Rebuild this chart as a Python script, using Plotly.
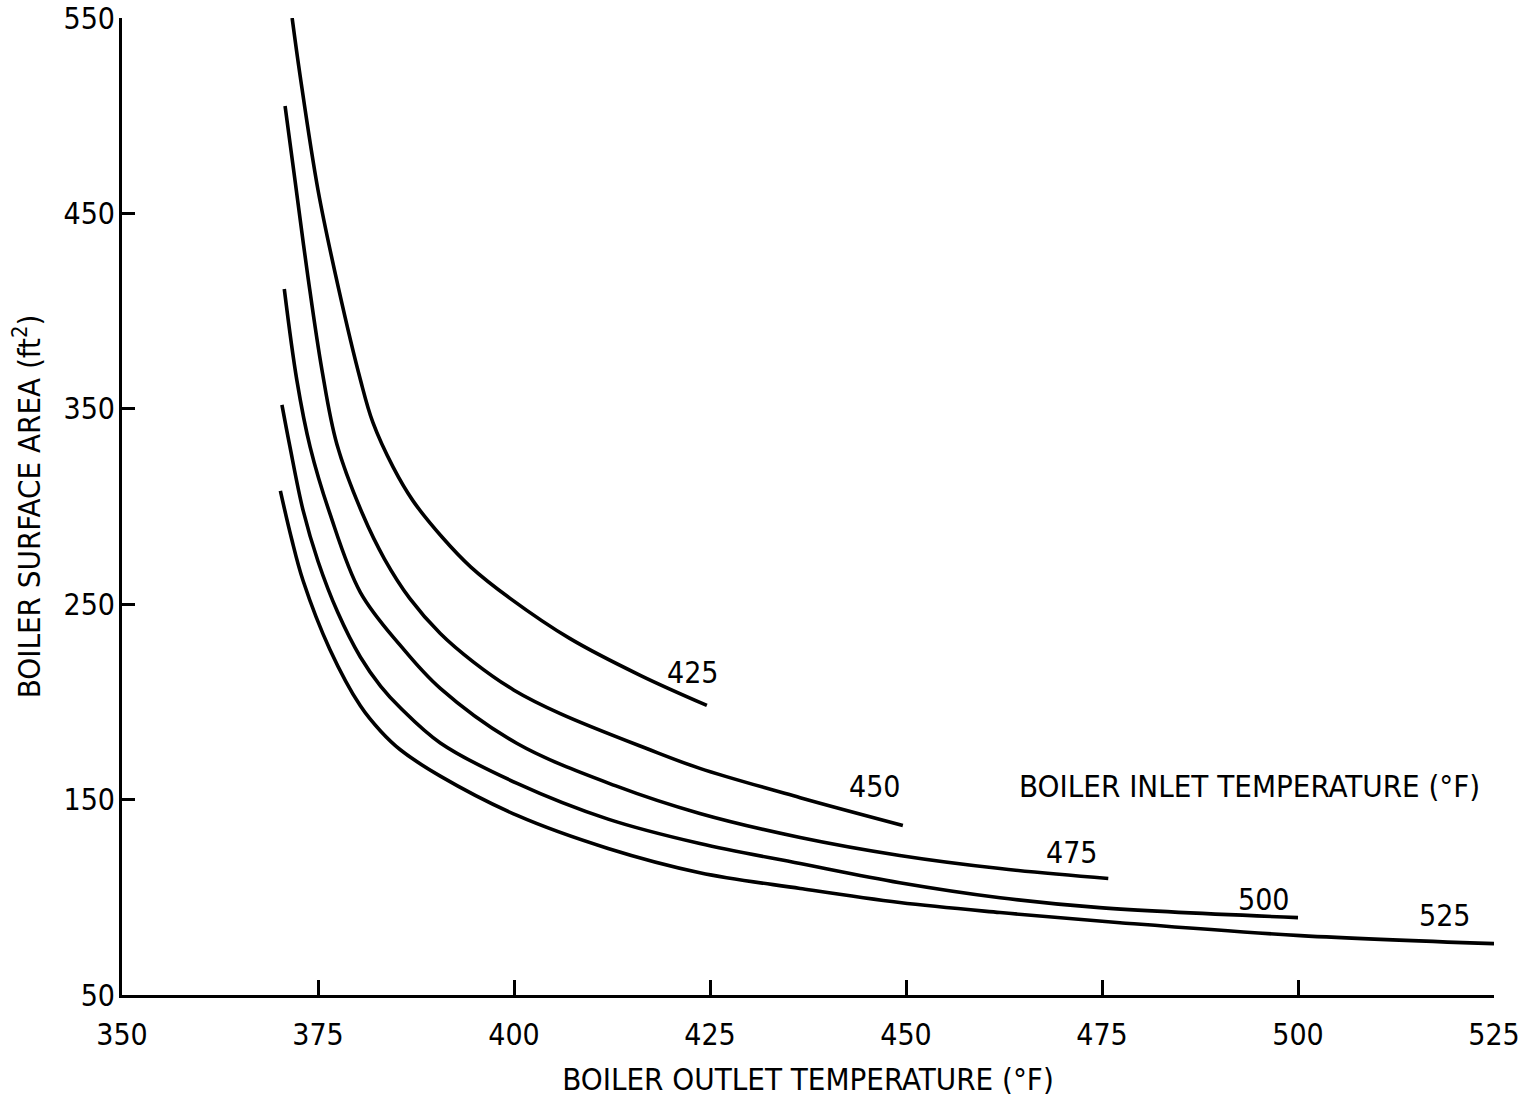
import plotly.graph_objects as go

# Boiler inlet temperatures (deg F), one curve each
inlet_temps = [425, 450, 475, 500, 525]

# Boiler outlet temperature (deg F) vs. required boiler surface area (ft^2)
outlet_425 = [371.7, 372.7, 375.0, 377.6, 380.4, 382.0, 384.6, 387.1, 390.9, 394.5, 399.5, 407.1, 416.1, 424.6]
area_425 = [550.0, 521.0, 462.0, 412.0, 365.0, 343.0, 320.0, 303.0, 284.0, 269.0, 253.0, 232.5, 213.6, 198.2]

outlet_450 = [370.8, 372.1, 373.7, 375.5, 377.4, 380.7, 383.5, 386.7, 390.6, 394.8, 400.0, 405.9, 417.0, 423.7, 436.5, 449.6]
area_450 = [505.0, 466.0, 418.0, 370.0, 332.0, 296.0, 273.0, 253.0, 235.0, 220.5, 206.0, 194.0, 176.0, 166.0, 151.0, 136.8]

outlet_475 = [370.7, 372.3, 374.0, 376.5, 380.4, 385.5, 390.6, 400.4, 413.0, 423.7, 436.5, 449.2, 462.0, 475.8]
area_475 = [411.3, 364.7, 330.4, 296.6, 256.1, 228.9, 206.9, 178.7, 157.0, 142.9, 130.6, 121.4, 114.7, 109.6]

outlet_500 = [370.4, 371.4, 373.1, 375.0, 377.5, 380.4, 383.0, 385.5, 390.6, 400.4, 412.0, 423.7, 436.5, 449.2, 462.0, 474.7, 500.0]
area_500 = [352.0, 331.0, 298.0, 272.0, 246.0, 223.0, 208.0, 197.0, 179.0, 158.3, 140.0, 127.5, 117.3, 107.5, 99.8, 94.7, 89.6]

outlet_525 = [370.2, 371.6, 373.1, 376.5, 380.4, 383.0, 385.5, 390.6, 400.4, 412.0, 423.7, 436.5, 449.2, 462.0, 477.3, 500.3, 525.0]
area_525 = [308.0, 284.0, 262.0, 227.0, 198.0, 185.0, 175.5, 162.0, 141.9, 125.0, 112.6, 104.5, 97.3, 92.2, 87.0, 80.4, 76.3]

# Axis ticks
x_ticks = [350, 375, 400, 425, 450, 475, 500, 525]
y_ticks = [50, 150, 250, 350, 450, 550]

curves = [
    (outlet_425, area_425),
    (outlet_450, area_450),
    (outlet_475, area_475),
    (outlet_500, area_500),
    (outlet_525, area_525),
]

# Pixel offsets of each curve label from the curve's end point
label_shift = [(-14, 33), (-28, 39), (-36, 26), (-34, 18), (-49, 28)]

FONT = "DejaVu Sans Condensed, Liberation Sans Narrow, DejaVu Sans, sans-serif"
TXT = dict(family=FONT, size=31, color="black")
TICK = dict(family=FONT, size=30, color="black")

fig = go.Figure()
for (xs, ys) in curves:
    fig.add_trace(go.Scatter(
        x=xs, y=ys, mode="lines",
        line=dict(color="black", width=3.6, shape="spline", smoothing=1.0),
        showlegend=False, hoverinfo="skip",
    ))

for temp, (xs, ys), (dx, dy) in zip(inlet_temps, curves, label_shift):
    fig.add_annotation(
        x=xs[-1], y=ys[-1], xref="x", yref="y",
        text=str(temp), showarrow=False,
        xshift=dx, yshift=dy, font=TICK,
    )

fig.add_annotation(
    x=493.8, y=157, xref="x", yref="y",
    text="BOILER INLET TEMPERATURE (°F)", showarrow=False, font=TXT,
)

fig.update_xaxes(
    range=[350, 525], tickvals=x_ticks, ticktext=[str(v) for v in x_ticks],
    showline=True, linecolor="black", linewidth=3,
    ticks="inside", ticklen=15, tickwidth=3, tickcolor="black",
    showgrid=False, zeroline=False, automargin=False,
    ticklabelstandoff=11, tickfont=TICK,
    title=dict(text="BOILER OUTLET TEMPERATURE (°F)", standoff=18, font=TXT),
)
fig.update_yaxes(
    range=[50, 550], tickvals=y_ticks, ticktext=[str(v) for v in y_ticks],
    showline=True, linecolor="black", linewidth=3,
    ticks="inside", ticklen=13, tickwidth=3, tickcolor="black",
    showgrid=False, zeroline=False, automargin=False,
    ticklabelstandoff=-2, tickfont=TICK,
    title=dict(text="BOILER SURFACE AREA (ft<sup>2</sup>)", standoff=14, font=TXT),
)

fig.update_layout(
    width=1536, height=1100,
    margin=dict(l=122, r=42, t=18, b=105),
    paper_bgcolor="white", plot_bgcolor="white",
)

fig.write_html("out.html")
